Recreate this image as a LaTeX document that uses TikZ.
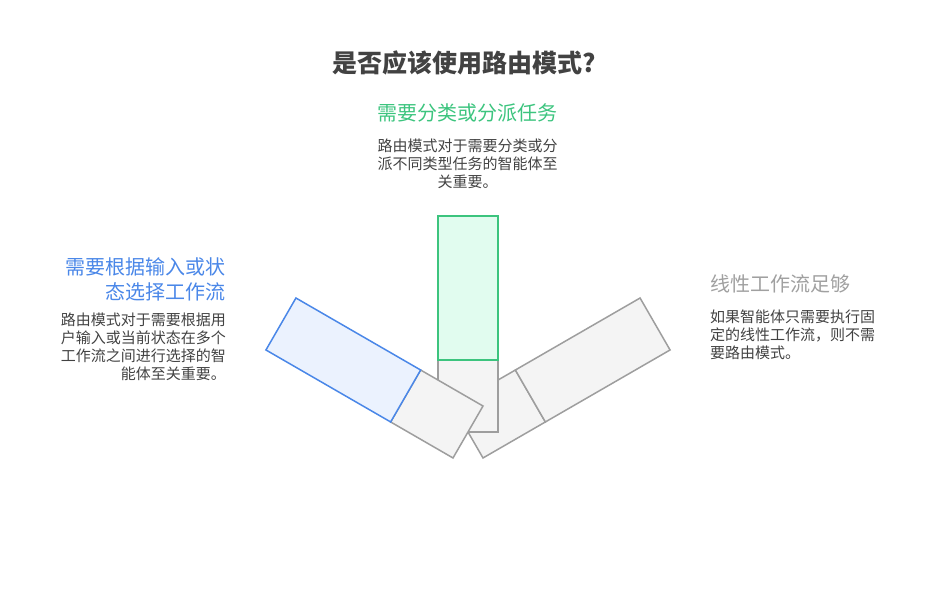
\documentclass[tikz,border=0pt]{standalone}
\usepackage{fontspec}
\newfontfamily\cjk{Noto Sans CJK SC}
\definecolor{titlecol}{HTML}{424242}
\definecolor{bodycol}{HTML}{424242}
\definecolor{greenline}{HTML}{3CC47E}
\definecolor{greenfill}{HTML}{E1FCEF}
\definecolor{blueline}{HTML}{4A87E8}
\definecolor{bluefill}{HTML}{EBF2FE}
\definecolor{grayline}{HTML}{9E9E9E}
\definecolor{grayfill}{HTML}{F4F4F4}
\definecolor{grayhead}{HTML}{A0A0A0}
\begin{document}
\begin{tikzpicture}[x=1pt,y=1pt,
  barseg/.style={draw, line width=1.5pt, minimum width=60pt, inner sep=0pt, outer sep=0pt, anchor=south},
  graybar/.style={barseg, draw=grayline, fill=grayfill},
  greenbar/.style={barseg, draw=greenline, fill=greenfill},
  bluebar/.style={barseg, draw=blueline, fill=bluefill},
  headtxt/.style={font=\cjk\fontsize{20}{24.5}\selectfont, inner sep=0pt},
  bodytxt/.style={font=\cjk\fontsize{15}{18}\selectfont, text=bodycol, inner sep=0pt}
]
\useasboundingbox (0,0) rectangle (936,612);
\coordinate (pivot) at (468,180);

% right bar (gray, not chosen)
\node[graybar, minimum height=72pt, rotate=-60] (rg) at (pivot) {};
\node[graybar, minimum height=144pt, rotate=-60] (rt) at (rg.north) {};
% centre bar
\node[graybar, minimum height=72pt] (cg) at (pivot) {};
\node[greenbar, minimum height=144pt] (ct) at (cg.north) {};
% left bar
\node[graybar, minimum height=72pt, rotate=60] (lg) at (pivot) {};
\node[bluebar, minimum height=144pt, rotate=60] (lt) at (lg.north) {};

% title
\node[font=\cjk\bfseries\fontsize{25}{30}\selectfont, text=titlecol, inner sep=0pt] (title) at (464,549) {是否应该使用路由模式?};

% top
\node[headtxt, text=greenline] (th) at (467.5,499) {需要分类或分派任务};
\node[bodytxt, align=center] (tb) at (467.5,448) {路由模式对于需要分类或分\\派不同类型任务的智能体至\\关重要。};

% left
\node[headtxt, text=blueline, align=right, anchor=east] (lh) at (226,332.5) {需要根据输入或状\\态选择工作流};
\node[bodytxt, align=right, anchor=east] (lb) at (226,265) {路由模式对于需要根据用\\户输入或当前状态在多个\\工作流之间进行选择的智\\能体至关重要。};

% right
\node[headtxt, text=grayhead, align=left, anchor=west] (rh) at (710,328) {线性工作流足够};
\node[bodytxt, align=left, anchor=west] (rb) at (710,277) {如果智能体只需要执行固\\定的线性工作流，则不需\\要路由模式。};
\end{tikzpicture}
\end{document}
